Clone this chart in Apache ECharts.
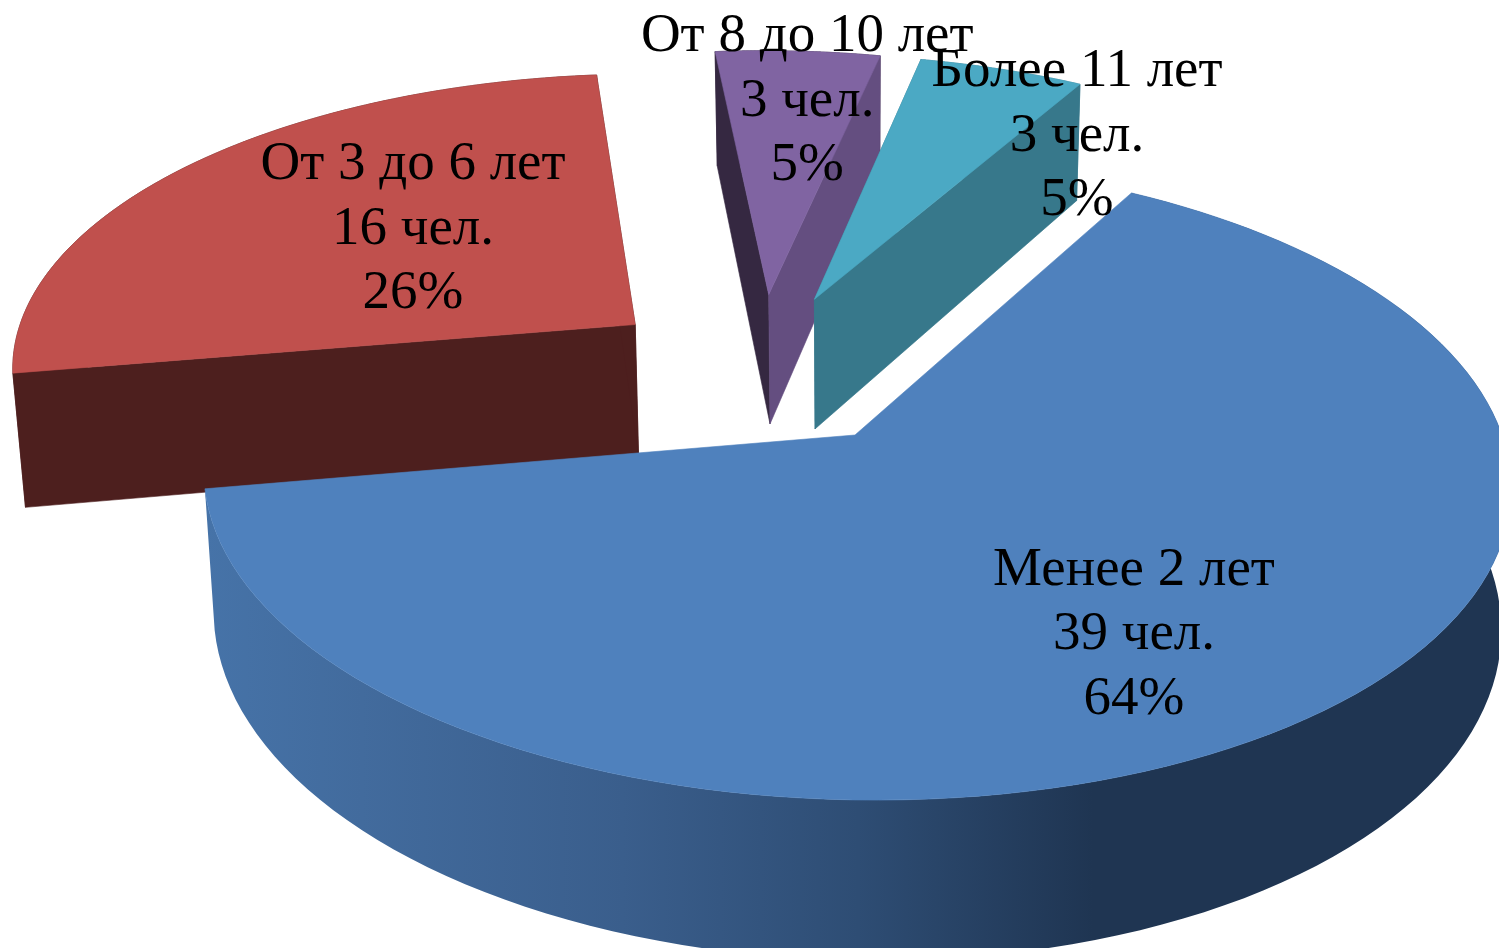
<!DOCTYPE html>
<html><head><meta charset="utf-8">
<style>html,body{margin:0;padding:0;background:#fff}#c{width:1499px;height:948px}</style>
<script src="https://cdn.jsdelivr.net/npm/echarts@6/dist/echarts.min.js"></script>
</head><body><div id="c"></div>
<script>
const categories = ['Менее 2 лет', 'От 3 до 6 лет', 'От 8 до 10 лет', 'Более 11 лет'];
const people = [39, 16, 3, 3];
const percents = [64, 26, 5, 5];
const peopleUnit = 'чел.';

// Layout and styling of the 3D projection
const topColors = ['#4F81BD', '#C0504D', '#8064A2', '#4BA9C4'];
const leftFace = ['#3b608f', '#4D1F1E', '#352841', '#37788B'];
const rightFace = ['#1F3552', '#4D1F1E', '#644E80', '#37788B'];
const explode = [[0, 0], [-0.347, 0.37], [-0.129, 0.477], [-0.054, 0.46]];
const labelAt = [[0.7565, 0.6695], [0.2755, 0.2420], [0.5385, 0.1070], [0.7185, 0.1440]];
const layers = [30, 0, 10, 20];
const view3d = { cx: 855, cy: 435, R: 647, Q: 314, k: 0.14, h: 138, base: 0.985, skew: 18, startDeg: 59.8 };
const total = people.reduce((a, b) => a + b, 0);

function project(X, Y) {
  const s = 1 / (1 + view3d.k * Y);
  return { x: view3d.cx + (view3d.R * X - view3d.skew * Y) * s, y: view3d.cy - view3d.Q * Y * s, s };
}
const topPt = (X, Y) => { const p = project(X, Y); return [p.x, p.y]; };
const botPt = (X, Y) => {
  const p = project(X, Y);
  return [view3d.cx + (p.x - view3d.cx) * view3d.base, p.y + view3d.h * p.s];
};

function renderItem(params, api) {
  const i = api.value(0);
  const before = people.slice(0, i).reduce((a, b) => a + b, 0);
  const a0 = (view3d.startDeg - before / total * 360) * Math.PI / 180;
  const a1 = (view3d.startDeg - (before + api.value(1)) / total * 360) * Math.PI / 180;
  const [ex, ey] = explode[i];
  const steps = 120, arc = [];
  for (let n = 0; n <= steps; n++) {
    const a = a0 + (a1 - a0) * n / steps;
    arc.push([ex + Math.cos(a), ey + Math.sin(a)]);
  }
  const z = layers[i];
  const poly = (points, fill, dz) => ({
    type: 'polygon', z2: z + dz, shape: { points },
    style: { fill, stroke: typeof fill === 'string' ? fill : null, lineWidth: 0.6 }
  });
  const first = arc[0], last = arc[arc.length - 1];
  const children = [];
  // rim wall
  const wallFill = i === 0
    ? new echarts.graphic.LinearGradient(0, 0, 1, 0, [
        { offset: 0, color: '#4673A8' },
        { offset: 0.12, color: '#426B9D' },
        { offset: 0.32, color: '#3A5E8C' },
        { offset: 0.5, color: '#2E4D74' },
        { offset: 0.68, color: '#1F3552' },
        { offset: 1, color: '#1F3552' }])
    : leftFace[i];
  children.push(poly(arc.map(p => topPt(p[0], p[1])).concat(arc.slice().reverse().map(p => botPt(p[0], p[1]))), wallFill, 0));
  // cut faces
  if (i !== 0) {
    children.push(poly([topPt(ex, ey), topPt(first[0], first[1]), botPt(first[0], first[1]), botPt(ex, ey)], leftFace[i], 1));
    children.push(poly([topPt(ex, ey), topPt(last[0], last[1]), botPt(last[0], last[1]), botPt(ex, ey)], rightFace[i], 2));
  }
  // top face
  children.push(poly([topPt(ex, ey)].concat(arc.map(p => topPt(p[0], p[1]))), topColors[i], 3));
  // label
  children.push({
    type: 'text', z2: 100,
    style: {
      x: labelAt[i][0] * 1499, y: labelAt[i][1] * 948,
      text: categories[i] + '\n' + api.value(1) + ' ' + peopleUnit + '\n' + api.value(2) + '%',
      align: 'center', verticalAlign: 'middle',
      font: '55px "Liberation Serif"', lineHeight: 64.5, fill: '#000'
    }
  });
  return { type: 'group', children };
}

const chart = echarts.init(document.getElementById('c'), null, { renderer: 'canvas' });
chart.setOption({
  animation: false,
  backgroundColor: '#fff',
  series: [{
    type: 'custom',
    coordinateSystem: 'none',
    renderItem,
    data: categories.map((name, i) => ({ name, value: [i, people[i], percents[i]] }))
  }]
});
</script></body></html>
